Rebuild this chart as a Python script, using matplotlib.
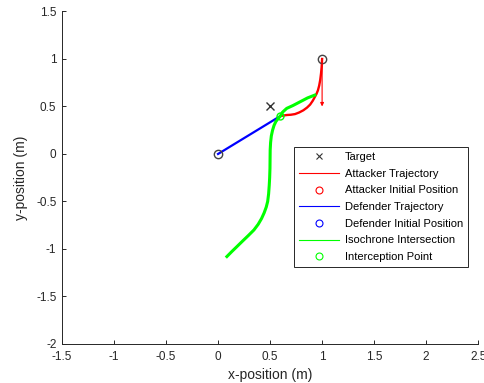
import numpy as np
import matplotlib
matplotlib.use('Agg')
import matplotlib.pyplot as plt
from matplotlib.lines import Line2D

plt.rcParams['font.family'] = ['Liberation Sans', 'DejaVu Sans']

# points
target = (0.5, 0.5)
attacker_start = (1.0, 1.0)
defender_start = (0.0, 0.0)
intercept = (0.6, 0.4)
attacker_heading = (0.0, -0.5)

# attacker trajectory
att_x = [1.0, 0.996, 0.99, 0.982, 0.972, 0.96, 0.945, 0.93, 0.91, 0.885, 0.855, 0.82, 0.78, 0.74, 0.70, 0.66, 0.63, 0.6]
att_y = [1.0, 0.92, 0.85, 0.78, 0.72, 0.67, 0.63, 0.60, 0.56, 0.52, 0.488, 0.46, 0.437, 0.42, 0.413, 0.41, 0.405, 0.4]

# isochrone intersection
iso_x = [0.93, 0.86, 0.79, 0.72, 0.66, 0.62, 0.6, 0.575, 0.555, 0.538, 0.524, 0.512, 0.505, 0.501, 0.5, 0.499,
         0.496, 0.492, 0.486, 0.477, 0.463, 0.443, 0.418, 0.386, 0.345, 0.29, 0.233, 0.177, 0.13, 0.085]
iso_y = [0.62, 0.59, 0.55, 0.51, 0.48, 0.44, 0.4, 0.37, 0.34, 0.3, 0.25, 0.19, 0.12, 0.04, -0.05, -0.15,
         -0.25, -0.33, -0.42, -0.5, -0.56, -0.62, -0.68, -0.74, -0.80, -0.86, -0.92, -0.98, -1.03, -1.08]

fig = plt.figure(figsize=(4.84, 3.83), dpi=100)
ax = fig.add_axes([0.128, 0.102, 0.860, 0.868])

ax.plot(att_x, att_y, color='#ff0000', lw=1.7)
ax.plot([defender_start[0], intercept[0]], [defender_start[1], intercept[1]], color='#0000ff', lw=1.6)
ax.plot(iso_x, iso_y, color='#00ff00', lw=2.2)
ax.annotate('', xy=(attacker_start[0] + attacker_heading[0], attacker_start[1] + attacker_heading[1]),
            xytext=attacker_start,
            arrowprops=dict(arrowstyle='-|>', color='#ff0000', lw=0.8, mutation_scale=5, shrinkA=0, shrinkB=0))
ax.plot(*target, marker='x', color='#333333', ms=6, mew=1, ls='none')
ax.plot(*attacker_start, marker='o', mfc='none', mec='#444444', ms=6, mew=1, ls='none')
ax.plot(*defender_start, marker='o', mfc='none', mec='#444444', ms=6, mew=1, ls='none')
ax.plot(*intercept, marker='o', mfc='none', mec='#00ff00', ms=5, mew=1, ls='none')

ax.set_xlim(-1.5, 2.5)
ax.set_ylim(-2, 1.5)
ax.set_xticks(np.arange(-1.5, 2.51, 0.5))
ax.set_xticklabels(['-1.5', '-1', '-0.5', '0', '0.5', '1', '1.5', '2', '2.5'])
ax.set_yticks(np.arange(-2, 1.51, 0.5))
ax.set_yticklabels(['-2', '-1.5', '-1', '-0.5', '0', '0.5', '1', '1.5'])
ax.spines['top'].set_visible(False)
ax.spines['right'].set_visible(False)
for s in ['left', 'bottom']:
    ax.spines[s].set_color('#262626')
    ax.spines[s].set_linewidth(0.7)
ax.tick_params(direction='in', length=3, width=0.7, colors='#262626', labelsize=8.5)
ax.tick_params(axis='x', pad=5)
ax.tick_params(axis='y', pad=4)
ax.set_xlabel('x-position (m)', fontsize=10, color='#262626', labelpad=4)
ax.set_ylabel('y-position (m)', fontsize=10, color='#262626', labelpad=6)

handles = [
    Line2D([], [], marker='x', color='#333333', ls='none', ms=5, mew=0.8),
    Line2D([], [], color='#ff0000', lw=0.8),
    Line2D([], [], marker='o', mfc='none', mec='#ff0000', ls='none', ms=5, mew=0.8),
    Line2D([], [], color='#0000ff', lw=0.8),
    Line2D([], [], marker='o', mfc='none', mec='#0000ff', ls='none', ms=5, mew=0.8),
    Line2D([], [], color='#00ff00', lw=0.8),
    Line2D([], [], marker='o', mfc='none', mec='#00ff00', ls='none', ms=5, mew=0.8),
]
labels = ['Target', 'Attacker Trajectory', 'Attacker Initial Position', 'Defender Trajectory',
          'Defender Initial Position', 'Isochrone Intersection', 'Interception Point']
leg = ax.legend(handles, labels, loc='upper left', bbox_to_anchor=(0.558, 0.592), fontsize=8,
                fancybox=False, edgecolor='#262626', framealpha=1, handlelength=3.6,
                handletextpad=0.5, labelspacing=0.6, borderpad=0.45, borderaxespad=0)
leg.get_frame().set_linewidth(0.7)

fig.savefig('out.png', dpi=100)
